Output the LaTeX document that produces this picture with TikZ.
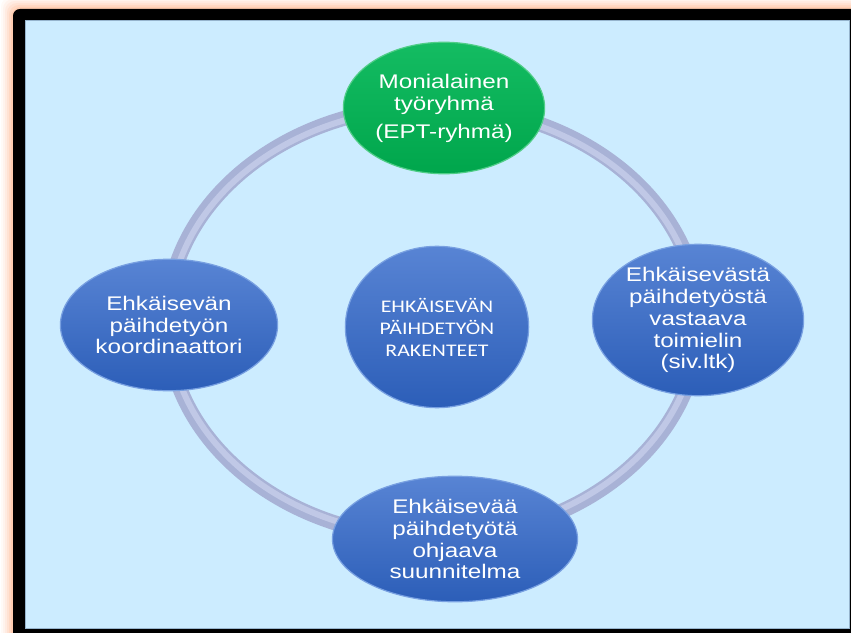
\documentclass[tikz,border=0pt]{standalone}
\usepackage{fontspec}
\setmainfont{Liberation Sans}[FakeStretch=1.23]
\newfontfamily\calfont{Carlito}[FakeStretch=1.23]
\usetikzlibrary{shapes.geometric}
\definecolor{bgblue}{RGB}{204,236,255}
\definecolor{edgeblue}{RGB}{150,180,205}
\definecolor{glow}{RGB}{255,170,120}
\definecolor{ringc}{RGB}{168,178,214}
\definecolor{ringhi}{RGB}{192,200,230}
\definecolor{bubtop}{RGB}{88,132,212}
\definecolor{bubbot}{RGB}{44,94,184}
\definecolor{bubrim}{RGB}{120,160,225}
\definecolor{grtop}{RGB}{20,188,98}
\definecolor{grbot}{RGB}{0,166,76}
\definecolor{grrim}{RGB}{80,205,135}
\tikzset{
  bub/.style={ellipse, inner sep=0pt, text=white, align=center,
    font=\fontsize{19.8}{22}\selectfont,
    shade, top color=bubtop, bottom color=bubbot, draw=bubrim, line width=1.2pt},
  greenbub/.style={bub, top color=grtop, bottom color=grbot, draw=grrim},
  centerbub/.style={bub, font=\calfont\fontsize{17.8}{22}\selectfont},
  ring/.style={line width=15pt, ringc},
  ringshine/.style={line width=6pt, ringhi}
}
\begin{document}
\begin{tikzpicture}[x=1bp,y=-1bp]
\useasboundingbox (0,0) rectangle (851,633);
\begin{scope}
\clip (0,0) rectangle (851,633);
\fill[white] (0,0) rectangle (851,633);
\foreach \i/\o in {12/0.06,10/0.08,8/0.1,6/0.13,4/0.17,2/0.22}{
  \fill[glow, opacity=\o, rounded corners=10] (13-\i,9-\i) rectangle (890,670);
}
\fill[black, rounded corners=7] (13,9) rectangle (890,670);
\fill[bgblue] (25,20) rectangle (849,628);
\draw[edgeblue, line width=0.8pt] (25,20) rectangle (849,628);
\end{scope}
% ring
\draw[ring] (433,322) ellipse [x radius=266, y radius=216];
\draw[ringshine] (433,322) ellipse [x radius=264, y radius=214];
% nodes
\node[greenbub, minimum width=202, minimum height=132] (top) at (444,108)
  {Monialainen\\työryhmä\\[6pt](EPT-ryhmä)};
\node[bub, minimum width=218, minimum height=132] (left) at (169,325)
  {Ehkäisevän\\päihdetyön\\koordinaattori};
\node[centerbub, minimum width=184, minimum height=162] (center) at (437,327)
  {EHKÄISEVÄN\\PÄIHDETYÖN\\RAKENTEET};
\node[bub, minimum width=212, minimum height=152] (right) at (698,320)
  {Ehkäisevästä\\päihdetyöstä\\vastaava\\toimielin\\(siv.ltk)};
\node[bub, minimum width=246, minimum height=126] (bottom) at (455,539)
  {Ehkäisevää\\päihdetyötä\\ohjaava\\suunnitelma};
\end{tikzpicture}
\end{document}
